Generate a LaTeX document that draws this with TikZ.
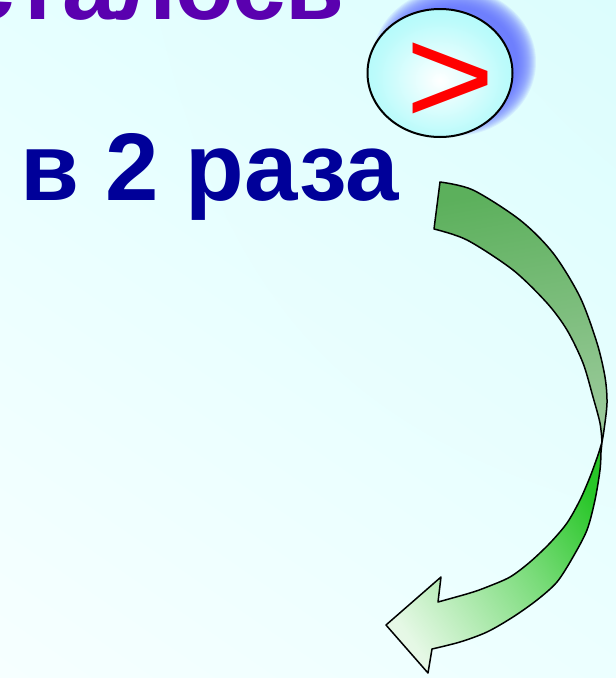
\documentclass[tikz,border=0pt]{standalone}
\usepackage{fontspec}
\setmainfont{Liberation Sans}
\usetikzlibrary{shapes.geometric,shadings}

\definecolor{bgUL}{RGB}{230,255,255}
\definecolor{bgUR}{RGB}{220,253,253}
\definecolor{bgLL}{RGB}{246,255,255}
\definecolor{bgLR}{RGB}{236,255,255}
\definecolor{topviolet}{RGB}{90,0,175}
\definecolor{navytext}{RGB}{0,0,153}
\definecolor{glowblue}{RGB}{100,115,255}
\definecolor{ballcyan}{RGB}{135,248,248}
\definecolor{backgreenA}{RGB}{92,176,92}
\definecolor{backgreenB}{RGB}{155,202,155}
\definecolor{frontgreen}{RGB}{40,198,40}

% soft white centre fading to cyan at the rim
\pgfdeclareradialshading{ballshade}{\pgfpoint{0bp}{-3bp}}{%
  color(0bp)=(white); color(22bp)=(ballcyan!55!white); color(50bp)=(ballcyan)}

% pale at the arrow head, saturated green towards the bend
\pgfdeclarehorizontalshading{frontshade}{100bp}{%
  color(0bp)=(frontgreen!5!white); color(24bp)=(frontgreen!12!white);
  color(55bp)=(frontgreen!62!white); color(76bp)=(frontgreen); color(100bp)=(frontgreen)}

\tikzset{
  bigtext/.style={anchor=base west, inner sep=0pt, font=\bfseries\fontsize{96}{96}\selectfont},
  arrowline/.style={draw=black, line width=1.5pt, line join=round},
}

\begin{document}
\begin{tikzpicture}[x=1pt,y=-1pt]
  \useasboundingbox (0,0) rectangle (616,678);
  \clip (0,0) rectangle (616,678);

  % background
  \shade[upper left=bgUL, upper right=bgUR, lower left=bgLL, lower right=bgLR]
    (0,0) rectangle (616,678);

  % headings
  \node[bigtext, text=topviolet] (word) at (-96,19) {осталось};
  \node[bigtext, text=navytext] (ratio) at (20,200) {в 2 раза};

  % blurred blue glow behind the ball
  \foreach \k in {0,...,19}
    \fill[glowblue, opacity=0.1] (454,62) ellipse [x radius={82pt-\k pt}, y radius={74pt-\k pt}];

  % the ball with the comparison sign
  \node[ellipse, draw=black, line width=2pt, minimum width=145pt, minimum height=128pt,
        inner sep=0pt, shading=ballshade] (ball) at (440,73) {};
  \node[anchor=base west, inner sep=0pt, text=red, xscale=1.1,
        font=\fontsize{140}{140}\selectfont] (sign) at (405,124) {>};

  % curved arrow: back face (upper band)
  \draw[arrowline, left color=backgreenA, right color=backgreenB, shading angle=10]
    plot[smooth] coordinates {(440,182) (473,190) (520,220) (553,253) (580,297)
                              (597,343) (605,377) (607,403) (604,430) (602,442)}
    -- plot[smooth] coordinates {(602,442) (600,423) (593,397) (583,363) (567,330)
                              (547,303) (513,270) (467,240) (434,229)}
    -- cycle;

  % curved arrow: front face with head
  \draw[arrowline, shading=frontshade, shading angle=35]
    (602,442)
    -- plot[smooth] coordinates {(601,452) (600,470) (595,500) (587,530) (573,557)
                              (557,582) (537,600) (513,617) (487,632) (460,642) (432,649)}
    -- (428,673) -- (386,625) -- (441,577)
    -- plot[smooth] coordinates {(438,602) (470,593) (487,587) (510,577) (530,562)
                              (550,543) (567,523) (580,500) (590,477) (598,455) (602,442)}
    -- cycle;
\end{tikzpicture}
\end{document}
